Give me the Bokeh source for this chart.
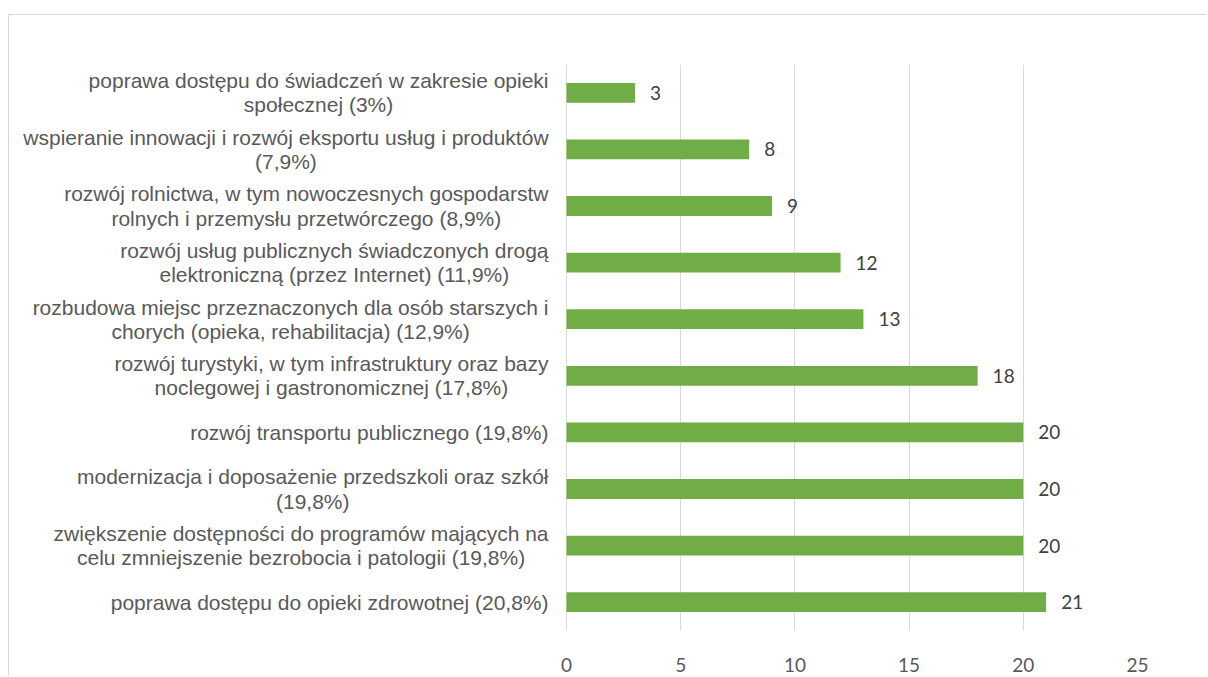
from bokeh.plotting import figure
from bokeh.models import ColumnDataSource, LabelSet, FixedTicker, Range1d, FactorRange
from bokeh.core.properties import value
from bokeh.embed import file_html
from bokeh.resources import INLINE

# ---- data (top to bottom as in the chart) ----
categories = [
    "poprawa dostępu do świadczeń w zakresie opieki\nspołecznej (3%)",
    "wspieranie innowacji i rozwój eksportu usług i produktów\n(7,9%)",
    "rozwój rolnictwa, w tym nowoczesnych gospodarstw\nrolnych i przemysłu przetwórczego (8,9%)",
    "rozwój usług publicznych świadczonych drogą\nelektroniczną (przez Internet) (11,9%)",
    "rozbudowa miejsc przeznaczonych dla osób starszych i\nchorych (opieka, rehabilitacja) (12,9%)",
    "rozwój turystyki, w tym infrastruktury oraz bazy\nnoclegowej i gastronomicznej (17,8%)",
    "rozwój transportu publicznego (19,8%)",
    "modernizacja i doposażenie przedszkoli oraz szkół\n(19,8%)",
    "zwiększenie dostępności do programów mających na\ncelu zmniejszenie bezrobocia i patologii (19,8%)",
    "poprawa dostępu do opieki zdrowotnej (20,8%)",
]
values = [3, 8, 9, 12, 13, 18, 20, 20, 20, 21]
x_ticks = [0, 5, 10, 15, 20, 25]

# ---- styling / layout ----
BAR_COLOR = "#70AD47"
GRID_COLOR = "#D9D9D9"
CAT_FONT = "Liberation Sans"
CAT_SIZE = 21
NUM_FONT = "Lato"
NUM_SIZE = 19
LABEL_GAP = 18

W, H = 1198, 661
LABEL_AREA = 557      # px left of the value axis zero
PLOT_W = 571          # px from 0 to the axis maximum

# Arial / Liberation Sans advance widths (per 1000 em)
_W = {
    "a": 556, "b": 556, "c": 500, "d": 556, "e": 556, "f": 278, "g": 556, "h": 556,
    "i": 222, "j": 222, "k": 500, "l": 222, "m": 833, "n": 556, "o": 556, "p": 556,
    "q": 556, "r": 333, "s": 500, "t": 278, "u": 556, "v": 500, "w": 722, "x": 500,
    "y": 500, "z": 500, " ": 278, "(": 333, ")": 333, "%": 889, ",": 278, ".": 278,
    "I": 278, "ą": 556, "ę": 556, "ś": 500, "ć": 500, "ń": 556, "ó": 556, "ł": 222,
    "ż": 500, "ź": 500,
}


def text_width(s, size):
    return sum(_W.get(ch, 556) for ch in s) / 1000.0 * size


block_w = [max(text_width(line, CAT_SIZE) for line in c.split("\n")) for c in categories]

src = ColumnDataSource(dict(
    cat=categories,
    val=values,
    txt=[str(v) for v in values],
    zero=[0] * len(values),
    xoff=[-(LABEL_GAP + w / 2.0) for w in block_w],
))

x_max = x_ticks[-1]
x_min = -x_max * LABEL_AREA / PLOT_W   # frame extends left to hold the category labels

p = figure(
    width=W, height=H,
    y_range=FactorRange(factors=categories[::-1]),
    x_range=Range1d(x_min, x_max),
    output_backend="svg", toolbar_location=None,
    min_border_left=0, min_border_right=W - LABEL_AREA - PLOT_W,
    min_border_top=49, min_border_bottom=46,
)
p.margin = (14, 0, 0, 8)
p.styles = {"border-top": "1px solid #D9D9D9", "border-left": "1px solid #D9D9D9"}
p.outline_line_color = None
p.background_fill_color = "white"
p.border_fill_color = "white"

p.hbar(y="cat", right="val", left=0, height=0.35, source=src,
       fill_color=BAR_COLOR, line_color=None)

# axes
p.yaxis.visible = False
p.ygrid.grid_line_color = None
p.xaxis.ticker = FixedTicker(ticks=x_ticks)
p.xgrid.ticker = FixedTicker(ticks=x_ticks)
p.xgrid.grid_line_color = GRID_COLOR
p.xgrid.grid_line_width = 1
p.xaxis.axis_line_color = None
p.xaxis.major_tick_line_color = None
p.xaxis.minor_tick_line_color = None
p.xaxis.major_label_standoff = 21
p.xaxis.major_label_text_font = NUM_FONT
p.xaxis.major_label_text_font_size = f"{NUM_SIZE}px"
p.xaxis.major_label_text_color = "#595959"

# value labels
p.add_layout(LabelSet(x="val", y="cat", text="txt", source=src, x_offset=15,
                      text_baseline="middle", text_align="left",
                      text_font=value(NUM_FONT), text_font_size=f"{NUM_SIZE}px",
                      text_color="#404040"))

# category labels (lines centred within a right-aligned block)
p.text(x="zero", y="cat", text="cat", source=src, x_offset="xoff",
       text_baseline="middle", text_align="center",
       text_font=value(CAT_FONT), text_font_size=f"{CAT_SIZE}px",
       text_line_height=1.05, text_color="#595959")

open("out.html", "w").write(file_html(p, INLINE))
